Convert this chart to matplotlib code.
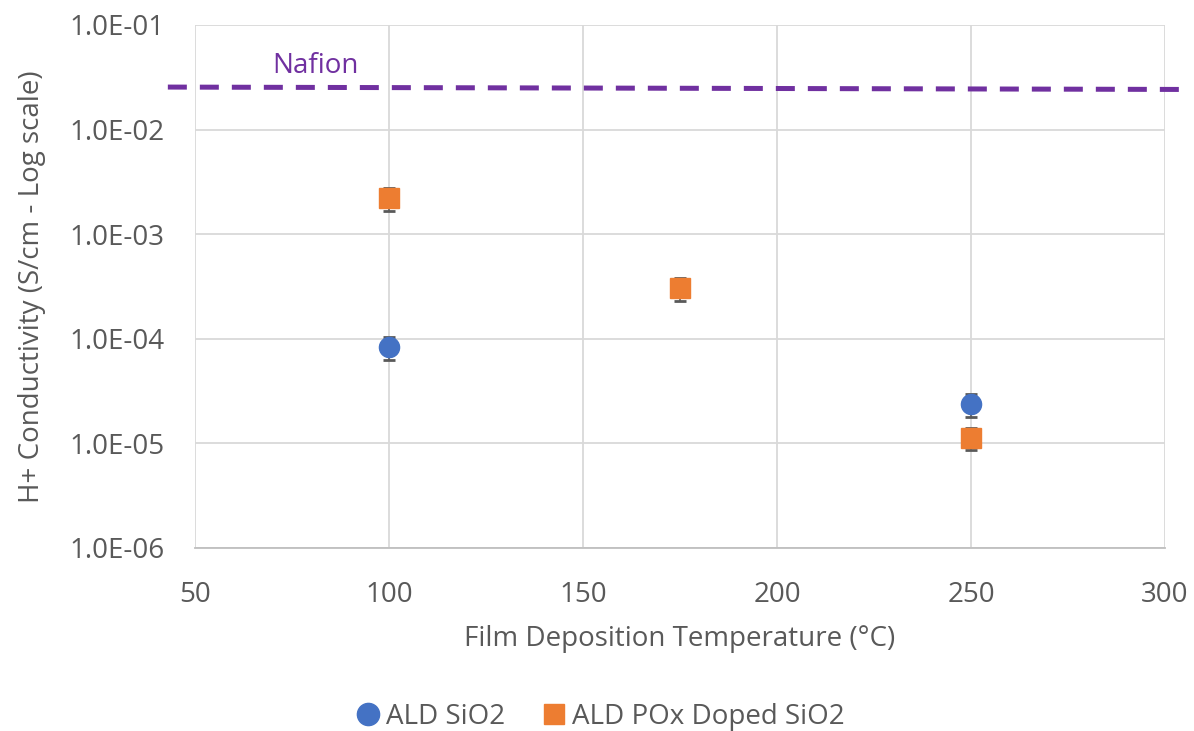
import matplotlib.pyplot as plt
import numpy as np
from matplotlib.lines import Line2D
from matplotlib.ticker import FixedLocator, FuncFormatter

plt.rcParams['font.family'] = ['Open Sans', 'DejaVu Sans']

# -------------------------------------------------------------------------
# Data
# -------------------------------------------------------------------------
sio2_temp = [100, 250]
sio2_cond = [8.4e-5, 2.4e-5]
sio2_err_lo = [2.1e-5, 0.6e-5]
sio2_err_hi = [2.0e-5, 0.55e-5]

pox_temp = [100, 175, 250]
pox_cond = [2.2e-3, 3.05e-4, 1.13e-5]
pox_err_lo = [0.55e-3, 0.75e-4, 0.27e-5]
pox_err_hi = [0.55e-3, 0.75e-4, 0.28e-5]

nafion_temp = [43, 305]
nafion_cond = [2.55e-2, 2.42e-2]

yticks = [1e-6, 1e-5, 1e-4, 1e-3, 1e-2, 1e-1]
xticks = [50, 100, 150, 200, 250, 300]

blue = '#4472c4'
orange = '#ed7d31'
purple = '#7030a0'
grey_txt = '#595959'
fs = 20

# -------------------------------------------------------------------------
# Plot
# -------------------------------------------------------------------------
fig = plt.figure(figsize=(11.94, 7.31), dpi=100)
ax = fig.add_axes([195 / 1194, 1 - 548 / 731, 970 / 1194, 523 / 731])

ax.plot(nafion_temp, nafion_cond, color=purple, lw=3.6,
        dashes=(3.8, 2.6), clip_on=False, zorder=3)
ax.text(81, 0.0348, 'Nafion', color=purple, fontsize=fs,
        ha='center', va='baseline')

ax.errorbar(sio2_temp, sio2_cond, yerr=[sio2_err_lo, sio2_err_hi],
            fmt='o', color=blue, ms=14.5, ecolor=grey_txt,
            elinewidth=1.2, capsize=4.5, capthick=2, zorder=4)
ax.errorbar(pox_temp, pox_cond, yerr=[pox_err_lo, pox_err_hi],
            fmt='s', color=orange, ms=14, ecolor=grey_txt,
            elinewidth=1.2, capsize=4.5, capthick=2, zorder=4)

ax.set_yscale('log')
ax.set_ylim(1e-6, 1e-1)
ax.set_xlim(50, 300)
ax.yaxis.set_major_locator(FixedLocator(yticks))
ax.yaxis.set_minor_locator(FixedLocator([]))
ax.yaxis.set_major_formatter(FuncFormatter(lambda v, p: '{:.1E}'.format(v)))
ax.set_xticks(xticks)

ax.grid(True, color='#d9d9d9', lw=1.3)
ax.set_axisbelow(True)
for s in ['top', 'right', 'left']:
    ax.spines[s].set_visible(False)
ax.spines['bottom'].set_color('#bfbfbf')
ax.spines['bottom'].set_linewidth(1.3)
ax.tick_params(length=0, labelsize=fs, colors=grey_txt)
ax.tick_params(axis='y', pad=22)
ax.tick_params(axis='x', pad=24)

ax.set_xlabel('Film Deposition Temperature (°C)', fontsize=fs,
              color=grey_txt, labelpad=11)
ax.set_ylabel('H+ Conductivity (S/cm - Log scale)', fontsize=fs,
              color=grey_txt, labelpad=17)

handles = [
    Line2D([], [], ls='none', marker='o', color=blue, ms=16),
    Line2D([], [], ls='none', marker='s', color=orange, ms=14.5),
]
leg = fig.legend(handles, ['ALD SiO2', 'ALD POx Doped SiO2'], loc='center',
                 bbox_to_anchor=(0.5, 1 - 717 / 731), ncol=2,
                 frameon=False, fontsize=fs, handletextpad=0.0,
                 columnspacing=1.1, handlelength=1.3)
for t in leg.get_texts():
    t.set_color(grey_txt)

fig.savefig('out.png', dpi=100)
